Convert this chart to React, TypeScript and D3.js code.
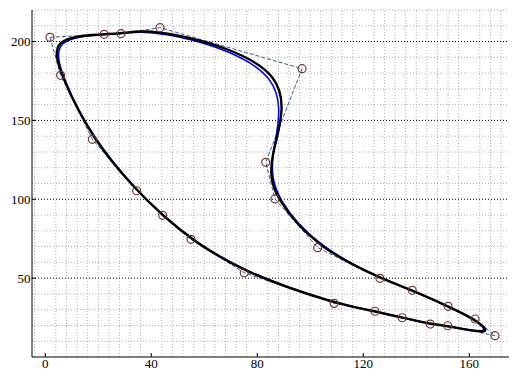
import React from 'react'
import * as d3 from 'd3'

// control points, in polygon order
const ctrlX = [1.8, 5.8, 17.8, 34.5, 44.3, 55.0, 75.1, 109.0, 124.4, 134.7, 145.3, 151.9, 169.7, 162.2, 152.0, 138.5, 126.3, 102.8, 86.7, 83.2, 96.9, 43.3, 28.6, 22.2]
const ctrlY = [202.7, 178.6, 138.0, 105.4, 89.8, 74.6, 53.4, 34.0, 29.0, 24.9, 20.9, 19.8, 13.5, 24.1, 32.1, 42.3, 49.9, 69.3, 100.2, 123.4, 182.8, 208.8, 205.0, 204.6]

const xTicks = [0, 40, 80, 120, 160]
const yTicks = [50, 100, 150, 200]
const xMinor = d3.range(-4, 176, 4)
const yMinor = d3.range(10, 221, 10)

const width = 513
const height = 372
const margin = { top: 10, right: 4, bottom: 15, left: 32 }

export default function App() {
  const x = d3.scaleLinear().domain([-5, 175]).range([margin.left, width - margin.right])
  const y = d3.scaleLinear().domain([0, 220]).range([height - margin.bottom, margin.top])

  const pts: [number, number][] = ctrlX.map((v, i) => [v, ctrlY[i]])
  // blue curve: same polygon, lightly relaxed so the spline runs a little smoother
  const n = pts.length
  const soft: [number, number][] = pts.map((p, i) => {
    const a = pts[(i - 1 + n) % n], b = pts[(i + 1) % n]
    return [0.92 * p[0] + 0.04 * (a[0] + b[0]), 0.92 * p[1] + 0.04 * (a[1] + b[1])]
  })

  const polyLine = d3.line<[number, number]>().x(d => x(d[0])).y(d => y(d[1])).curve(d3.curveLinearClosed)
  const spline = d3.line<[number, number]>().x(d => x(d[0])).y(d => y(d[1])).curve(d3.curveBasisClosed)

  const x0 = x.range()[0], x1 = x.range()[1]
  const y0 = y.range()[0], y1 = y.range()[1]

  return (
    <svg width={width} height={height} style={{ position: 'absolute', left: 0, top: 0, background: '#fff' }}
      fontFamily="'Liberation Serif', 'Times New Roman', serif" fontSize={13}>
      {/* minor grid */}
      {xMinor.filter(v => !xTicks.includes(v)).map(v => (
        <line key={'vx' + v} x1={x(v)} x2={x(v)} y1={y0} y2={y1} stroke="#b0b0b0" strokeWidth={1} strokeDasharray="1,2" />
      ))}
      {yMinor.filter(v => !yTicks.includes(v)).map(v => (
        <line key={'hy' + v} x1={x0} x2={x1} y1={y(v)} y2={y(v)} stroke="#b0b0b0" strokeWidth={1} strokeDasharray="1,2" />
      ))}
      {/* major grid */}
      {yTicks.map(v => (
        <line key={'my' + v} x1={x0} x2={x1} y1={y(v)} y2={y(v)} stroke="#000" strokeWidth={1} strokeDasharray="1,2" />
      ))}

      {/* control polygon */}
      <path d={polyLine(pts) ?? ''} fill="none" stroke="#3b5a98" strokeWidth={1} strokeDasharray="4,2" />
      {/* curves */}
      <path d={spline(soft) ?? ''} fill="none" stroke="#0000ff" strokeWidth={1.6} />
      <path d={spline(pts) ?? ''} fill="none" stroke="#000" strokeWidth={2.4} />
      {/* control points */}
      {pts.map((p, i) => (
        <circle key={i} cx={x(p[0])} cy={y(p[1])} r={4} fill="none" stroke="#6b3a2c" strokeWidth={1.2} />
      ))}

      {/* axes */}
      <line x1={x0} x2={x0} y1={y0} y2={y1} stroke="#000" strokeWidth={1} />
      <line x1={x0} x2={x1} y1={y0} y2={y0} stroke="#000" strokeWidth={1} />
      {xTicks.map(v => (
        <g key={'xt' + v}>
          <line x1={x(v)} x2={x(v)} y1={y0} y2={y0 - 4} stroke="#000" />
          <text x={x(v)} y={368} textAnchor="middle">{v}</text>
        </g>
      ))}
      {yTicks.map(v => (
        <g key={'yt' + v}>
          <line x1={x0} x2={x0 + 4} y1={y(v)} y2={y(v)} stroke="#000" />
          <text x={30.5} y={y(v) + 4.5} textAnchor="end">{v}</text>
        </g>
      ))}
    </svg>
  )
}
